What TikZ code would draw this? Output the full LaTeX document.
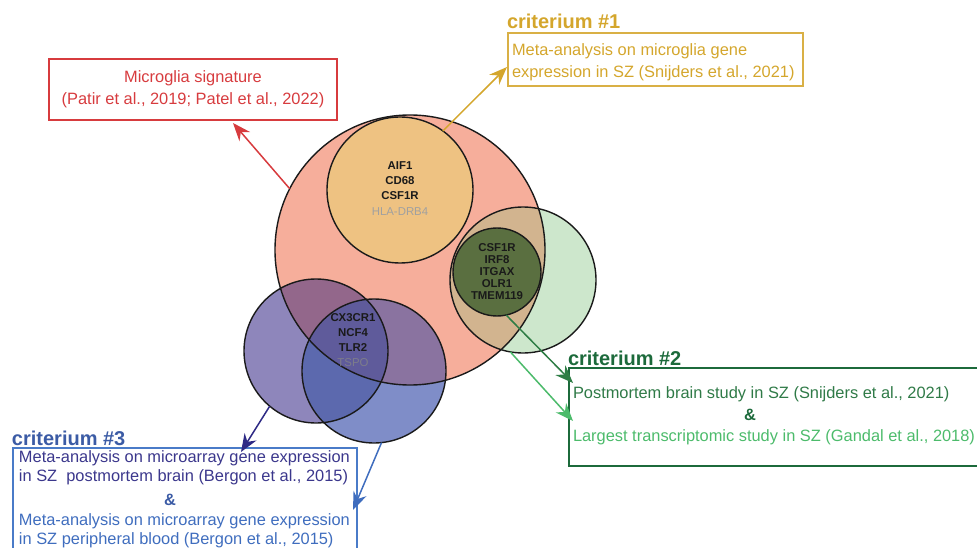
\documentclass[tikz,border=0pt]{standalone}
\usepackage{fontspec}
\setmainfont{Liberation Sans}
\usetikzlibrary{arrows.meta}
\definecolor{cRed}{HTML}{F6AE9B}
\definecolor{cOrange}{HTML}{EEC282}
\definecolor{cGreenL}{HTML}{CDE7CC}
\definecolor{cTan}{HTML}{D2B48F}
\definecolor{cDkGreen}{HTML}{5A6F40}
\definecolor{cPurple}{HTML}{8E86BB}
\definecolor{cBlue}{HTML}{7F8DC8}
\definecolor{cPurRed}{HTML}{93678B}
\definecolor{cBluRed}{HTML}{8A73A0}
\definecolor{cPurBlu}{HTML}{5C69AE}
\definecolor{cTriple}{HTML}{5F5B9B}
\definecolor{tRed}{HTML}{D73B3E}
\definecolor{tYellow}{HTML}{D4A62C}
\definecolor{bYellow}{HTML}{D9B045}
\definecolor{tGreenD}{HTML}{1C6A3B}
\definecolor{tGreen}{HTML}{2F7A47}
\definecolor{tGreenL}{HTML}{4CBB6B}
\definecolor{aGreen}{HTML}{2E7D45}
\definecolor{tBlueH}{HTML}{3B5BA5}
\definecolor{tIndigo}{HTML}{3B378C}
\definecolor{tBlue}{HTML}{3F6DBE}
\definecolor{bBlue}{HTML}{4A7BC8}
\definecolor{aNavy}{HTML}{2E2A85}
\definecolor{tGrayA}{HTML}{A0A0A0}
\definecolor{tGrayB}{HTML}{7D7D8A}
\definecolor{ink}{HTML}{1A1A1A}
\begin{document}
\begin{tikzpicture}[x=1pt,y=-1pt,
  ring/.style={circle, draw=ink, line width=1.4pt, inner sep=0pt, outer sep=0pt},
  arr/.style={line width=1.5pt, -{Stealth[length=18pt,width=14pt,inset=6pt]}},
  frame/.style={draw, line width=1.5pt, inner sep=0pt, outer sep=0pt},
  txt/.style={inner sep=0pt, outer sep=0pt, anchor=west, font=\fontsize{16.4}{20}\selectfont, text height=11.8pt, text depth=0pt},
  ctxt/.style={txt, anchor=center},
  head/.style={inner sep=0pt, outer sep=0pt, anchor=west, font=\fontsize{20}{24}\selectfont\bfseries, text height=14.4pt, text depth=0pt},
  amp/.style={ctxt, font=\fontsize{16.4}{20}\selectfont\bfseries},
  gene/.style={inner sep=0pt, outer sep=0pt, anchor=center, font=\fontsize{11.4}{14}\selectfont\bfseries, text height=8.2pt, text depth=0pt, text=ink},
  genelt/.style={gene, font=\fontsize{11.4}{14}\selectfont}
]
\useasboundingbox (0,0) rectangle (977,548);
\clip (0,0) rectangle (977,548);

% fills
\fill[cRed] (410,250) circle[radius=135];
\fill[cGreenL] (523,280) circle[radius=73];
\begin{scope}
  \clip (410,250) circle[radius=135];
  \fill[cTan] (523,280) circle[radius=73];
\end{scope}
\fill[cOrange] (400,190) circle[radius=73];
\fill[cDkGreen] (497,272) circle[radius=44];
\fill[cPurple] (316,351) circle[radius=72];
\fill[cBlue] (374,371) circle[radius=72];
\begin{scope}
  \clip (410,250) circle[radius=135];
  \fill[cPurRed] (316,351) circle[radius=72];
  \fill[cBluRed] (374,371) circle[radius=72];
\end{scope}
\begin{scope}
  \clip (316,351) circle[radius=72];
  \fill[cPurBlu] (374,371) circle[radius=72];
  \clip (410,250) circle[radius=135];
  \fill[cTriple] (374,371) circle[radius=72];
\end{scope}

% outlines
\node[ring, minimum size=270pt] (red) at (410,250) {};
\node[ring, minimum size=146pt] (orange) at (400,190) {};
\node[ring, minimum size=146pt] (green) at (523,280) {};
\node[ring, minimum size=88pt] (dkgreen) at (497,272) {};
\node[ring, minimum size=144pt] (purple) at (316,351) {};
\node[ring, minimum size=144pt] (blue) at (374,371) {};

% genes
\foreach \t [count=\i] in {AIF1,CD68,CSF1R}
  \node[gene] (og\i) at (400,{165+15.3*(\i-1)}) {\t};
\node[genelt, text=tGrayA] (og4) at (400,211) {HLA-DRB4};
\foreach \t [count=\i] in {CSF1R,IRF8,ITGAX,OLR1,TMEM119}
  \node[gene] (dg\i) at (497,{247+12*(\i-1)}) {\t};
\foreach \t [count=\i] in {CX3CR1,NCF4,TLR2}
  \node[gene] (pg\i) at (353,{317+15*(\i-1)}) {\t};
\node[genelt, text=tGrayB] (pg4) at (353,362) {TSPO};

% red box
\node[frame, draw=tRed, minimum width=288pt, minimum height=61pt] (rbox) at (193,89.5) {};
\node[ctxt, text=tRed] (r1) at (193,77) {Microglia signature};
\node[ctxt, text=tRed] (r2) at (193,99) {(Patir et al., 2019; Patel et al., 2022)};

% yellow box
\node[head, text=tYellow] (c1) at (507,21) {criterium \#1};
\node[frame, draw=bYellow, minimum width=295pt, minimum height=53pt] (ybox) at (655.5,59.5) {};
\node[txt, text=tYellow] (y1) at (512,50) {Meta-analysis on microglia gene};
\node[txt, text=tYellow] (y2) at (512,72) {expression in SZ (Snijders et al., 2021)};

% green box
\node[head, text=tGreenD] (c2) at (568,358) {criterium \#2};
\node[frame, draw=tGreenD, minimum width=431pt, minimum height=98pt] (gbox) at (784.5,417) {};
\node[txt, text=tGreen] (g1) at (573,393) {Postmortem brain study in SZ (Snijders et al., 2021)};
\node[amp, text=tGreenD] (g2) at (750,415) {\&};
\node[txt, text=tGreenL] (g3) at (573,436) {Largest transcriptomic study in SZ (Gandal et al., 2018)};

% blue box
\node[head, text=tBlueH] (c3) at (12,438) {criterium \#3};
\node[frame, draw=bBlue, minimum width=344pt, minimum height=112pt] (bbox) at (185,504) {};
\node[txt, text=tIndigo] (b1) at (19,457) {Meta-analysis on microarray gene expression};
\node[txt, text=tIndigo] (b2) at (19,476) {in SZ\ \ postmortem brain (Bergon et al., 2015)};
\node[amp, text=tBlueH] (b3) at (170,500) {\&};
\node[txt, text=tBlue] (b4) at (19,520) {Meta-analysis on microarray gene expression};
\node[txt, text=tBlue] (b5) at (19,539) {in SZ peripheral blood (Bergon et al., 2015)};

% arrows
\coordinate (tipR) at (233,123);
\coordinate (tipY) at (507,67);
\coordinate (tipG1) at (573,383);
\coordinate (tipG2) at (573,421);
\coordinate (tipN) at (241,452);
\coordinate (tipB) at (353,510);
\draw[arr, tRed] (red.153) -- (tipR);
\draw[arr, tYellow] (orange.54) -- (tipY);
\draw[arr, aGreen] (dkgreen.282) -- (tipG1);
\draw[arr, tGreenL] (green.260) -- (tipG2);
\draw[arr, aNavy] (purple.230) -- (tipN);
\draw[arr, tBlue] (blue.276) -- (tipB);
\end{tikzpicture}
\end{document}
